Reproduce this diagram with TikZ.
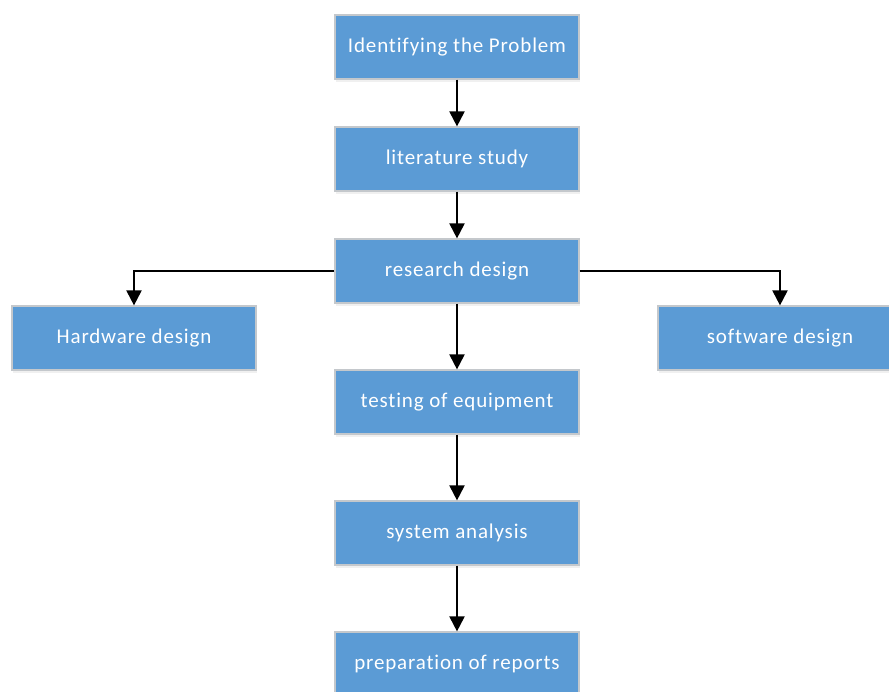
\documentclass[tikz,border=0pt]{standalone}
\usepackage{fontspec}
\setmainfont{Carlito}[Ligatures=NoCommon, LetterSpace=4]
\usetikzlibrary{arrows.meta,shadows}

\definecolor{stepblue}{HTML}{5B9BD5}
\definecolor{stepedge}{HTML}{C4C8CC}

\tikzset{
  stepbox/.style={draw=stepedge, line width=1.2pt, fill=stepblue, text=white,
    minimum width=244pt, minimum height=64pt, inner sep=0pt,
    font=\fontsize{21}{24}\selectfont,
    drop shadow={opacity=0.12, shadow xshift=1pt, shadow yshift=-3pt}},
  flow/.style={-{Triangle[length=15pt,width=15pt]}, line width=2pt}
}

\begin{document}
\begin{tikzpicture}[x=1pt,y=-1pt]
  \useasboundingbox (0,0) rectangle (889,691);

  % main column
  \node[stepbox] (problem)   at (457,47)  {Identifying the Problem};
  \node[stepbox] (study)     at (457,159) {literature study};
  \node[stepbox] (design)    at (457,271) {research design};
  \node[stepbox] (testing)   at (457,402) {testing of equipment};
  \node[stepbox] (analysis)  at (457,533) {system analysis};
  \node[stepbox] (reports)   at (457,664) {preparation of reports};

  % side branches
  \node[stepbox] (hardware)  at (134,338) {Hardware design};
  \node[stepbox] (software)  at (780,338) {software design};

  % arrows
  \draw[flow] (problem) -- (study);
  \draw[flow] (study) -- (design);
  \draw[flow] (design) -- (testing);
  \draw[flow] (testing) -- (analysis);
  \draw[flow] (analysis) -- (reports);
  \draw[flow] (design.west) -| (hardware.north);
  \draw[flow] (design.east) -| (software.north);

\end{tikzpicture}
\end{document}
